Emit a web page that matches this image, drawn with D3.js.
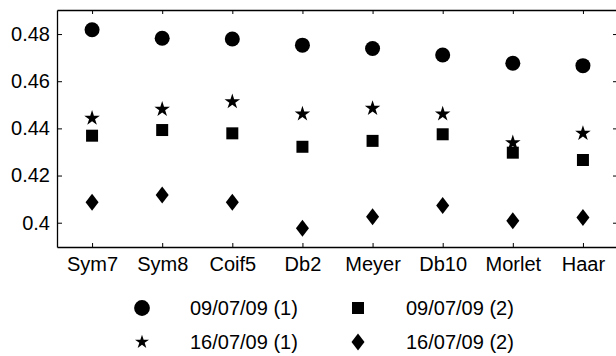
<!DOCTYPE html>
<html>
<head>
  <style>
    body { margin: 0; background: #fff; }
    svg { font-family: "Liberation Sans", Arial, sans-serif; }
  </style>
</head>
<body>
<script src="https://d3js.org/d3.v7.min.js"></script>
<script>
// wavelets on the x axis
const wavelets = ["Sym7", "Sym8", "Coif5", "Db2", "Meyer", "Db10", "Morlet", "Haar"];

// one array per measurement
const day1a = [0.4818, 0.4782, 0.4779, 0.4753, 0.4739, 0.4711, 0.4676, 0.4666]; // 09/07/09 (1)
const day1b = [0.4369, 0.4393, 0.4379, 0.4322, 0.4347, 0.4375, 0.4297, 0.4266]; // 09/07/09 (2)
const day2a = [0.4443, 0.4481, 0.4513, 0.4461, 0.4485, 0.4461, 0.4339, 0.4379]; // 16/07/09 (1)
const day2b = [0.4087, 0.4118, 0.4087, 0.3976, 0.4025, 0.4073, 0.4008, 0.4022]; // 16/07/09 (2)

const yTicks = [0.40, 0.42, 0.44, 0.46, 0.48];

const width = 616, height = 356;
const margin = { top: 10, right: -2, bottom: 109, left: 57 };

const svg = d3.select("body").append("svg")
  .attr("width", width)
  .attr("height", height);

const x = d3.scaleLinear()
  .domain([0.5, wavelets.length + 0.5])
  .range([margin.left, width - margin.right]);

const y = d3.scaleLinear()
  .domain([0.3897, 0.4902])
  .range([height - margin.bottom, margin.top]);

const idx = d3.range(1, wavelets.length + 1);

// axes with inward ticks, box style
svg.append("g")
  .attr("transform", `translate(0,${height - margin.bottom})`)
  .call(d3.axisBottom(x).tickValues(idx).tickFormat(i => wavelets[i - 1])
    .tickSizeInner(-4).tickSizeOuter(0).tickPadding(10));

svg.append("g")
  .attr("transform", `translate(${margin.left},0)`)
  .call(d3.axisLeft(y).tickValues(yTicks).tickFormat(d => +d.toFixed(2))
    .tickSizeInner(-5).tickSizeOuter(0).tickPadding(7));

svg.append("g")
  .attr("transform", `translate(0,${margin.top})`)
  .call(d3.axisTop(x).tickValues(idx).tickFormat("")
    .tickSizeInner(-4).tickSizeOuter(0));

svg.append("g")
  .attr("transform", `translate(${width - margin.right},0)`)
  .call(d3.axisRight(y).tickValues(yTicks).tickFormat("")
    .tickSizeInner(-5).tickSizeOuter(0));

svg.selectAll(".domain").attr("stroke", "#000").attr("stroke-width", 1.3);
svg.selectAll(".tick line").attr("stroke", "#000");
svg.selectAll(".tick text").attr("font-size", 20).attr("fill", "#000")
  .attr("font-family", "Liberation Sans, Arial, sans-serif");

// marker shapes
const shapes = {
  circle: d3.symbol(d3.symbolCircle, 177)(),
  square: "M-6,-6H6V6H-6Z",
  star: d3.symbol(d3.symbolStar, 75)(),
  diamond: "M0,-8.5L6.5,0L0,8.5L-6.5,0Z"
};

const series = [
  { name: "09/07/09 (1)", values: day1a, shape: "circle" },
  { name: "09/07/09 (2)", values: day1b, shape: "square" },
  { name: "16/07/09 (1)", values: day2a, shape: "star" },
  { name: "16/07/09 (2)", values: day2b, shape: "diamond" }
];

series.forEach(s => {
  svg.append("g").selectAll("path")
    .data(s.values)
    .join("path")
    .attr("d", shapes[s.shape])
    .attr("transform", (v, i) => `translate(${x(i + 1)},${y(v)})`)
    .attr("fill", "#000");
});

// legend, two columns
const legend = svg.append("g");
const legPos = [
  { mx: 142, tx: 190, y: 308 },
  { mx: 358, tx: 406, y: 308 },
  { mx: 142, tx: 190, y: 342 },
  { mx: 358, tx: 406, y: 342 }
];
series.forEach((s, i) => {
  const p = legPos[i];
  const sc = s.shape === "star" ? 0.9 : (s.shape === "circle" ? 1.05 : 1);
  legend.append("path")
    .attr("d", shapes[s.shape])
    .attr("transform", `translate(${p.mx},${p.y}) scale(${sc})`)
    .attr("fill", "#000");
  legend.append("text")
    .attr("x", p.tx).attr("y", p.y)
    .attr("dy", "0.36em")
    .attr("font-size", 20)
    .text(s.name);
});
</script>
</body>
</html>
